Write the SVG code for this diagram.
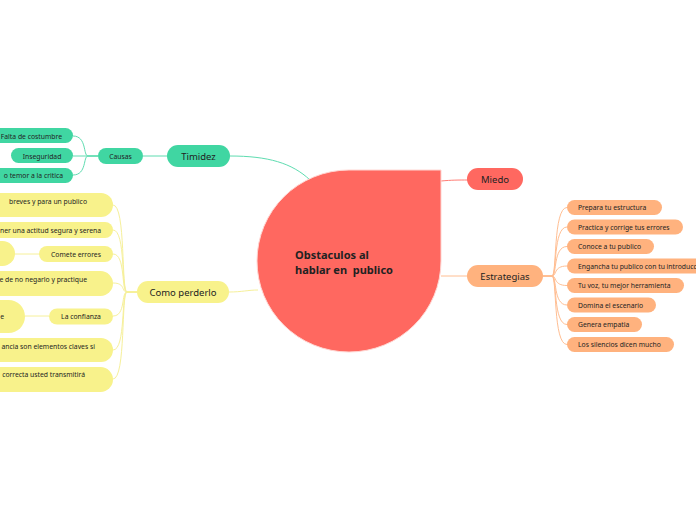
<svg xmlns="http://www.w3.org/2000/svg" width="696" height="520" viewBox="0 0 696 520">
<style>
text{font-family:"Noto Sans","Open Sans","DejaVu Sans",sans-serif;fill:#222}
.t1{font-size:9.5px}
.t2{font-size:6.8px}
.c{text-anchor:middle}
.e{text-anchor:end}
.teal{fill:#40D6A2}
.yel{fill:#F8F28B}
.org{fill:#FFB27E}
.red{fill:#FF6860}
.lt{stroke:#5EDCB0;fill:none;stroke-width:1}
.ly{stroke:#F6F09A;fill:none;stroke-width:1}
.lo{stroke:#FFBE92;fill:none;stroke-width:1}
.lr{stroke:#FF7D75;fill:none;stroke-width:1}
</style>
<rect width="696" height="520" fill="#ffffff"/>
<g id="connectors">
<path class="lt" d="M230,156 C268,156 292,163 310,180"/>
<path class="lt" d="M143,156 H167"/>
<path class="lt" d="M98,156 H88 C83,156 87,136 73,136"/>
<path class="lt" d="M98,156 H73"/>
<path class="lt" d="M98,156 H88 C83,156 87,175 73,175"/>
<path class="lr" d="M441,181 C452,180 458,180 468,180"/>
<path class="lo" d="M441,276 H467"/>
<path class="lo" d="M543,276 H552 C557,276 553,207.5 567,207.5"/>
<path class="lo" d="M543,276 H552 C557,276 553,227 567,227"/>
<path class="lo" d="M543,276 H552 C557,276 553,246.5 567,246.5"/>
<path class="lo" d="M543,276 H552 C557,276 553,266 567,266"/>
<path class="lo" d="M543,276 H552 C557,276 553,285.5 567,285.5"/>
<path class="lo" d="M543,276 H552 C557,276 553,305 567,305"/>
<path class="lo" d="M543,276 H552 C557,276 553,324.5 567,324.5"/>
<path class="lo" d="M543,276 H552 C557,276 553,344.5 567,344.5"/>
<path class="ly" d="M229,292 C242,292 248,290 258,290"/>
<path class="ly" d="M137,292 H127 C121,292 126,205 113,205"/>
<path class="ly" d="M137,292 H127 C121,292 126,230 113,230"/>
<path class="ly" d="M137,292 H127 C121,292 126,254 113,254"/>
<path class="ly" d="M137,292 H127 C121,292 126,283 113,283"/>
<path class="ly" d="M137,292 H127 C121,292 126,316 113,316"/>
<path class="ly" d="M137,292 H127 C121,292 126,350 113,350"/>
<path class="ly" d="M137,292 H127 C121,292 126,379 113,379"/>
<path class="ly" d="M39,254 H15"/>
<path class="ly" d="M49,316 H25"/>
</g>
<g id="central">
<path class="red" d="M349,170 L441,170 L441,261 A92,91 0 1 1 349,170 Z" stroke="#ffd6d2" stroke-width="1"/>
<text x="295" y="259" style="font-size:11px;font-weight:bold">Obstaculos al</text>
<text x="295" y="274" style="font-size:11px;font-weight:bold" xml:space="preserve">hablar en  publico</text>
</g>
<g id="timidez">
<rect class="teal" x="167" y="145" width="63" height="22" rx="11"/>
<text class="t1 c" x="198.5" y="159.5">Timidez</text>
</g>
<g id="causas">
<rect class="teal" x="98" y="148" width="45" height="16" rx="8"/>
<text class="t2 c" x="120.5" y="158.5">Causas</text>
</g>
<g id="falta">
<rect class="teal" x="-40" y="128" width="113" height="15" rx="7.5"/>
<text class="t2 e" x="62" y="138.5">Falta de costumbre</text>
</g>
<g id="inseguridad">
<rect class="teal" x="11" y="148" width="62" height="15" rx="7.5"/>
<text class="t2 c" x="42" y="158.5">Inseguridad</text>
</g>
<g id="temor">
<rect class="teal" x="-60" y="168" width="133" height="15" rx="7.5"/>
<text class="t2 e" x="63" y="178">o temor a la critica</text>
</g>
<g id="miedo">
<rect class="red" x="467" y="168" width="56" height="22" rx="11"/>
<text class="t1 c" x="495" y="182.5">Miedo</text>
</g>
<g id="estrategias">
<rect class="org" x="467" y="265" width="76" height="22" rx="11"/>
<text class="t1 c" x="505" y="279.5">Estrategias</text>
</g>
<g id="e1"><rect class="org" x="567" y="200" width="95" height="15" rx="7.5"/><text class="t2" x="578" y="210">Prepara tu estructura</text></g>
<g id="e2"><rect class="org" x="567" y="219.5" width="116" height="15" rx="7.5"/><text class="t2" x="578" y="229.5">Practica y corrige tus errores</text></g>
<g id="e3"><rect class="org" x="567" y="239" width="87" height="15" rx="7.5"/><text class="t2" x="578" y="249">Conoce a tu publico</text></g>
<g id="e4"><rect class="org" x="567" y="258.5" width="160" height="15" rx="7.5"/><text class="t2" x="578" y="268.5">Engancha tu publico con tu introduccion</text></g>
<g id="e5"><rect class="org" x="567" y="278" width="117" height="15" rx="7.5"/><text class="t2" x="578" y="288">Tu voz, tu mejor herramienta</text></g>
<g id="e6"><rect class="org" x="567" y="297.5" width="89" height="15" rx="7.5"/><text class="t2" x="578" y="307.5">Domina el escenario</text></g>
<g id="e7"><rect class="org" x="567" y="317" width="75" height="15" rx="7.5"/><text class="t2" x="578" y="327">Genera empatia</text></g>
<g id="e8"><rect class="org" x="567" y="337" width="107" height="15" rx="7.5"/><text class="t2" x="578" y="347">Los silencios dicen mucho</text></g>
<g id="comoperderlo">
<rect class="yel" x="137" y="281" width="92" height="22" rx="11"/>
<text class="t1 c" x="183" y="295.5">Como perderlo</text>
</g>
<g id="y1"><rect class="yel" x="-120" y="193" width="233" height="24" rx="12"/><text class="t2 e" x="87" y="203.5">breves y para un publico</text></g>
<g id="y2"><rect class="yel" x="-120" y="222" width="233" height="16" rx="8"/><text class="t2 e" x="101" y="232.5">ner una actitud segura y serena</text></g>
<g id="y3"><rect class="yel" x="-60" y="241" width="75" height="25" rx="12.5"/></g>
<g id="comete"><rect class="yel" x="39" y="246" width="74" height="16" rx="8"/><text class="t2 c" x="76" y="256.5">Comete errores</text></g>
<g id="y4"><rect class="yel" x="-120" y="271" width="233" height="25" rx="12.5"/><text class="t2 e" x="87" y="281.5">e de no negarlo y practique</text></g>
<g id="y5"><rect class="yel" x="-60" y="300" width="85" height="33" rx="16.5"/><text class="t2 e" x="4" y="319">e</text></g>
<g id="confianza"><rect class="yel" x="49" y="308.5" width="64" height="16" rx="8"/><text class="t2 c" x="81" y="319">La confianza</text></g>
<g id="y6"><rect class="yel" x="-120" y="338" width="233" height="24" rx="12"/><text class="t2 e" x="95" y="348.5">ancia son elementos claves si</text></g>
<g id="y7"><rect class="yel" x="-120" y="367" width="233" height="25" rx="12.5"/><text class="t2 e" x="85" y="377">correcta usted transmitirá</text></g>
</svg>
